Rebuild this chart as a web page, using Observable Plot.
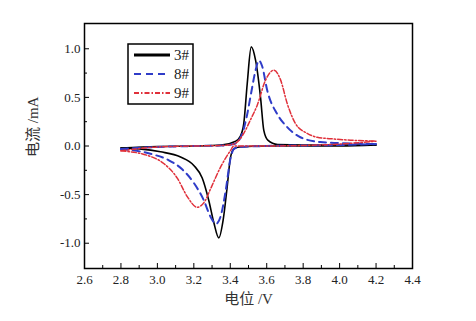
<!DOCTYPE html>
<html><head><meta charset="utf-8">
<script src="https://cdn.jsdelivr.net/npm/d3@7"></script>
<script src="https://cdn.jsdelivr.net/npm/@observablehq/plot@0.6"></script>
<style>
body{margin:0;background:#fff}
#chart svg text{font-family:"Liberation Serif","Noto Sans CJK SC",serif !important;}
</style>
</head><body><div id="chart"></div>
<script>
// 3# (black, solid)
const V3a = [2.8, 3.0, 3.2, 3.35, 3.43, 3.455, 3.474, 3.493, 3.515, 3.539, 3.566, 3.584, 3.606, 3.66, 3.8, 4.0, 4.2];
const I3a = [-0.02, -0.005, 0.0, 0.01, 0.05, 0.10, 0.23, 0.64, 1.02, 0.88, 0.50, 0.16, 0.06, 0.015, 0.01, 0.01, 0.01];
const V3c = [2.8, 2.9, 3.017, 3.127, 3.2, 3.246, 3.282, 3.31, 3.337, 3.361, 3.383, 3.401, 3.42, 3.45, 3.6, 4.0, 4.2];
const I3c = [-0.02, -0.03, -0.06, -0.113, -0.2, -0.33, -0.56, -0.79, -0.945, -0.76, -0.42, -0.12, -0.03, -0.01, 0.0, 0.0, 0.01];
// 8# (blue, dashed)
const V8a = [2.8, 3.0, 3.2, 3.35, 3.42, 3.46, 3.49, 3.515, 3.539, 3.557, 3.575, 3.603, 3.657, 3.712, 3.785, 3.895, 4.0, 4.2];
const I8a = [-0.03, -0.01, 0.0, 0.005, 0.02, 0.1, 0.3, 0.55, 0.78, 0.88, 0.82, 0.57, 0.33, 0.195, 0.09, 0.04, 0.03, 0.02];
const V8c = [2.8, 2.962, 3.063, 3.136, 3.2, 3.255, 3.292, 3.322, 3.346, 3.374, 3.401, 3.42, 3.45, 3.6, 4.0, 4.2];
const I8c = [-0.03, -0.08, -0.147, -0.24, -0.38, -0.56, -0.73, -0.80, -0.73, -0.47, -0.13, -0.03, -0.01, 0.0, 0.01, 0.02];
// 9# (red, dash-dot)
const V9a = [2.8, 3.0, 3.2, 3.35, 3.42, 3.474, 3.511, 3.548, 3.593, 3.639, 3.676, 3.712, 3.758, 3.822, 3.877, 3.95, 4.06, 4.2];
const I9a = [-0.05, -0.01, 0.0, 0.005, 0.02, 0.13, 0.27, 0.42, 0.675, 0.78, 0.68, 0.44, 0.23, 0.13, 0.09, 0.075, 0.06, 0.05];
const V9c = [2.8, 2.944, 3.035, 3.109, 3.164, 3.218, 3.26, 3.292, 3.346, 3.40, 3.42, 3.6, 4.0, 4.2];
const I9c = [-0.05, -0.096, -0.18, -0.33, -0.52, -0.63, -0.57, -0.44, -0.22, -0.05, 0.0, 0.0, 0.02, 0.05];

const seriesNames = ["3#", "8#", "9#"];
const seriesColors = ["#000000", "#2f3cc8", "#e0303a"];
const seriesDash = [null, "7,5", "5,2,1.5,2"];
const seriesWidth = [1.6, 2.0, 1.5];

const xMajor = [2.6, 2.8, 3.0, 3.2, 3.4, 3.6, 3.8, 4.0, 4.2, 4.4];
const xMinor = [2.7, 2.9, 3.1, 3.3, 3.5, 3.7, 3.9, 4.1, 4.3];
const yMajor = [-1.0, -0.5, 0.0, 0.5, 1.0];
const yMinor = [-0.75, -0.25, 0.25, 0.75];

function rows(V, I, branch) { return V.map((v, k) => ({v, i: I[k], branch})); }
const data = [
  rows(V3a, I3a, "a").concat(rows(V3c, I3c, "c")),
  rows(V8a, I8a, "a").concat(rows(V8c, I8c, "c")),
  rows(V9a, I9a, "a").concat(rows(V9c, I9c, "c"))
];

const fmt = d => d.toFixed(1);
const chart = Plot.plot({
  width: 476, height: 321,
  marginLeft: 84, marginRight: 64, marginTop: 23, marginBottom: 53,
  style: {fontFamily: '"Liberation Serif","Noto Sans CJK SC",serif', fontSize: "13px", color: "#222", background: "#fff"},
  x: {domain: [2.6, 4.4]},
  y: {domain: [-1.26, 1.26]},
  marks: [
    ...data.map((d, k) => Plot.line(d, {x: "v", y: "i", z: "branch", curve: "monotone-x",
      stroke: seriesColors[k], strokeWidth: seriesWidth[k], strokeDasharray: seriesDash[k]})),
    Plot.axisX(xMajor, {tickSize: -5, tickPadding: 11, tickFormat: fmt, label: null, stroke: "#000"}),
    Plot.axisX(xMinor, {tickSize: -3, text: null, label: null, stroke: "#000"}),
    Plot.axisY(yMajor, {tickSize: -5, tickPadding: 9, tickFormat: fmt, label: null, stroke: "#000"}),
    Plot.axisY(yMinor, {tickSize: -3, text: null, label: null, stroke: "#000"}),
    Plot.frame({stroke: "#000", strokeWidth: 1.5}),
    Plot.text(["电流 /mA"], {frameAnchor: "left", dx: -51, dy: 11, rotate: -90, fontSize: 15, fill: "#333"}),
    Plot.text(["电位 /V"], {frameAnchor: "bottom", dy: 35, fontSize: 15, fill: "#333"})
  ]
});
document.getElementById("chart").appendChild(chart);

// legend box
const svg = d3.select(chart);
const lg = svg.append("g");
lg.append("rect").attr("x", 128).attr("y", 44).attr("width", 65).attr("height", 60)
  .attr("fill", "#fff").attr("stroke", "#000").attr("stroke-width", 1.5);
seriesNames.forEach((name, k) => {
  const yy = 55 + k * 19;
  lg.append("line").attr("x1", 134).attr("x2", 170).attr("y1", yy).attr("y2", yy)
    .attr("stroke", seriesColors[k]).attr("stroke-width", k === 0 ? 3 : 2.2)
    .attr("stroke-dasharray", seriesDash[k]);
  lg.append("text").attr("x", 174).attr("y", yy).attr("dy", "0.35em")
    .attr("text-anchor", "start").attr("font-size", 15).attr("fill", "#222").text(name);
});
</script>
</body></html>
